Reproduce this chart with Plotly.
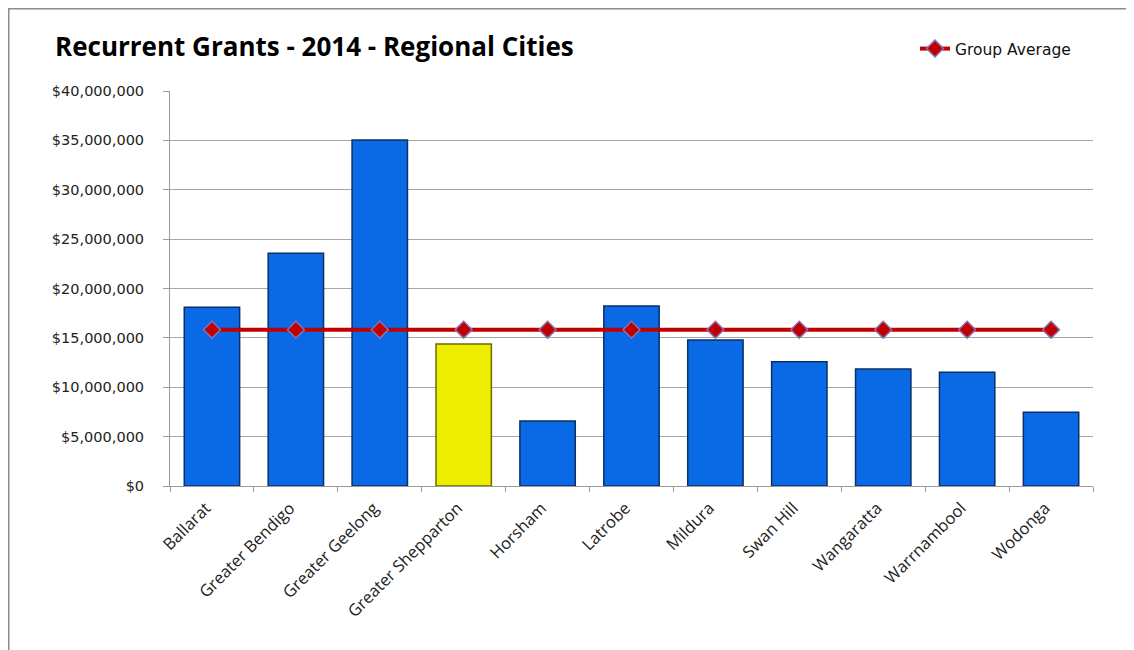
import plotly.graph_objects as go

categories = ["Ballarat", "Greater Bendigo", "Greater Geelong", "Greater Shepparton",
              "Horsham", "Latrobe", "Mildura", "Swan Hill", "Wangaratta",
              "Warrnambool", "Wodonga"]
grants = [18100000, 23560000, 35040000, 14380000, 6580000, 18230000,
          14780000, 12590000, 11850000, 11510000, 7460000]
group_average = [15830000] * len(categories)
highlight = "Greater Shepparton"
y_tickvals = [0, 5000000, 10000000, 15000000, 20000000, 25000000, 30000000, 35000000, 40000000]
y_ticktext = ["$0", "$5,000,000", "$10,000,000", "$15,000,000", "$20,000,000",
              "$25,000,000", "$30,000,000", "$35,000,000", "$40,000,000"]

bar_colors = ["#eded00" if c == highlight else "#0a6ae6" for c in categories]
edge_colors = ["#6b6b00" if c == highlight else "#0b2f66" for c in categories]

W, H = 1126, 642
L, R, T, B = 162, 41, 83, 164
pw, ph = W - L - R, H - T - B

fig = go.Figure()
fig.add_trace(go.Bar(
    x=categories, y=grants, marker=dict(color=bar_colors, line=dict(color=edge_colors, width=1.5)),
    showlegend=False, hoverinfo="x+y"))
fig.add_trace(go.Scatter(
    x=categories, y=group_average, mode="lines+markers", name="Group Average",
    line=dict(color="#c00000", width=4),
    marker=dict(symbol="diamond", size=13, color="#c00000", line=dict(color="#8a6fb0", width=1.5))))

fig.update_layout(
    width=W, height=H,
    paper_bgcolor="white", plot_bgcolor="white",
    margin=dict(l=L, r=R, t=T, b=B),
    bargap=0.34,
    title=dict(text="<b>Recurrent Grants - 2014 - Regional Cities</b>", x=47 / W, xanchor="left",
               y=1 - 39 / H, yanchor="middle",
               font=dict(family="Open Sans, sans-serif", size=26, color="black")),
    legend=dict(x=(907 - L) / pw, y=1 - 41 / H, xref="paper", yref="container",
                xanchor="left", yanchor="middle",
                font=dict(family="DejaVu Sans, sans-serif", size=15.5, color="#111"),
                bgcolor="rgba(0,0,0,0)"),
    font=dict(family="Open Sans, sans-serif", size=13, color="#222"),
    shapes=[dict(type="rect", xref="paper", yref="paper",
                 x0=(0.5 - L) / pw, x1=1.2, y0=-0.6, y1=1 + (T - 0.5) / ph,
                 line=dict(color="#8c8c8c", width=2), fillcolor="rgba(0,0,0,0)", layer="below")],
)
fig.update_xaxes(
    type="category", range=[-0.5, len(categories) - 0.5],
    tickangle=-45, tickson="boundaries", ticks="outside", ticklen=5,
    tickcolor="#9a9a9a", showline=True, linecolor="#9a9a9a", linewidth=1,
    ticklabelshift=-6, ticklabelstandoff=5,
    tickfont=dict(family="Open Sans, sans-serif", size=16.5, color="#222"),
)
fig.update_yaxes(
    range=[0, 40000000], tickvals=y_tickvals, ticktext=y_ticktext,
    showgrid=True, gridcolor="#a6a6a6", gridwidth=1,
    showline=True, linecolor="#9a9a9a", linewidth=1, ticks="outside", ticklen=6, tickcolor="#9a9a9a",
    zeroline=False, ticklabelstandoff=16,
    tickfont=dict(family="DejaVu Sans, sans-serif", size=14.5, color="#222"),
)

fig.write_html("out.html")
